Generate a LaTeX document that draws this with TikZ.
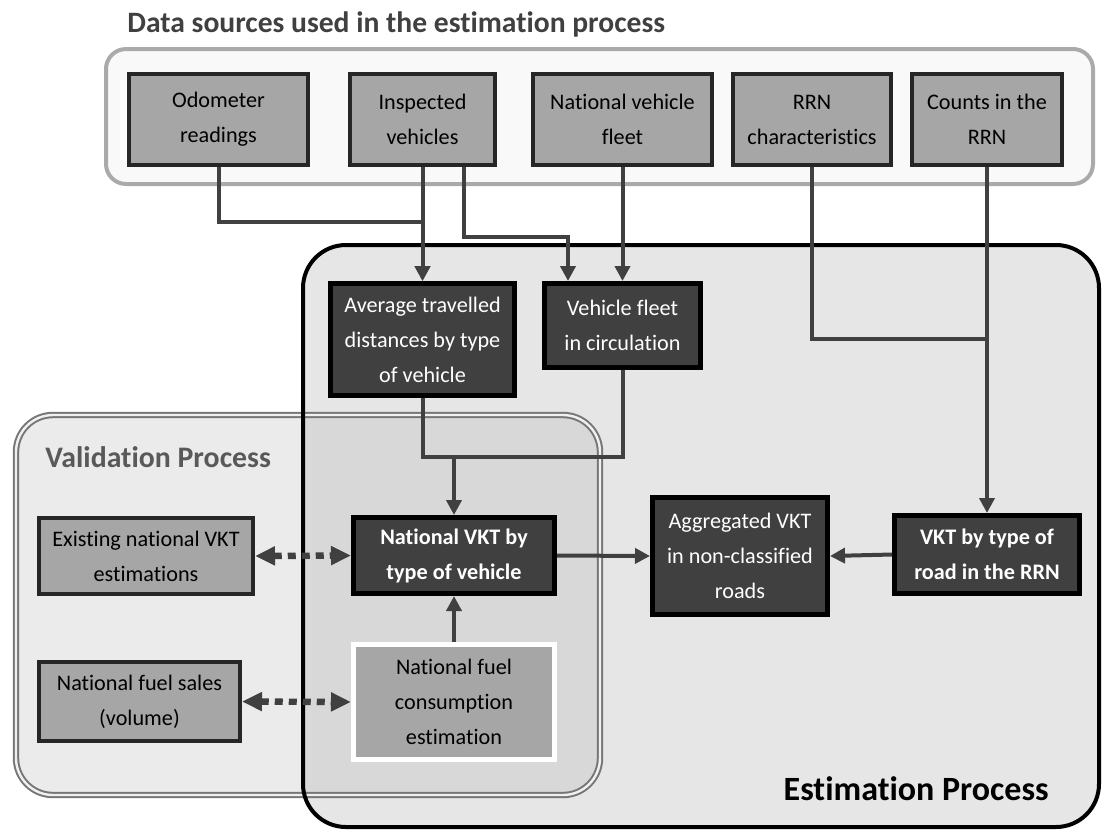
\documentclass[tikz,border=0pt]{standalone}
\usepackage{fontspec}
\setmainfont{Carlito}[Ligatures=NoCommon]
\usetikzlibrary{arrows.meta}
\definecolor{boxgray}{RGB}{166,166,166}
\definecolor{boxline}{RGB}{38,38,38}
\definecolor{darkbox}{RGB}{64,64,64}
\definecolor{linkgray}{RGB}{64,64,64}
\definecolor{titlegray}{RGB}{64,64,64}
\definecolor{panelfill}{RGB}{249,249,249}
\definecolor{panelline}{RGB}{170,170,170}
\definecolor{estfill}{RGB}{230,230,230}
\definecolor{valfill}{RGB}{183,183,183}
\definecolor{valline}{RGB}{118,118,118}
\definecolor{valtext}{RGB}{89,89,89}
\begin{document}
\begin{tikzpicture}[x=0.5pt, y=-0.5pt,
    txt/.style={font=\fontsize{11.1pt}{17.5pt}\selectfont, align=center, inner sep=0pt},
    strong/.style={font=\fontsize{11.1pt}{17.5pt}\selectfont\bfseries},
    source/.style={txt, draw=boxline, fill=boxgray, line width=2pt},
    result/.style={txt, draw=black, fill=darkbox, text=white, line width=2.5pt},
    link/.style={draw=linkgray, line width=2pt},
    arr/.style={link, -{Triangle[length=7.5pt, width=7.5pt]}},
    check/.style={draw=linkgray, line width=3.2pt, dash pattern=on 4pt off 3pt,
        {Triangle[length=10pt, width=9pt]}-{Triangle[length=10pt, width=9pt]}}]
    \useasboundingbox (0,0) rectangle (1103,832);

    \node[anchor=base west, inner sep=0pt, text=titlegray, font=\fontsize{14.8pt}{17pt}\selectfont\bfseries] (srctitle) at (127,32) {Data sources used in the estimation process};

    \draw[draw=panelline, fill=panelfill, line width=2pt, rounded corners=10pt] (106,49) rectangle (1093,184);
    \fill[estfill, rounded corners=21.5pt] (303,245) rectangle (1099,827);
    \draw[fill=valfill, fill opacity=0.28, draw=valline, line width=1pt, double=gray!12, double distance=1.2pt, rounded corners=18.5pt] (16,415) rectangle (600,795);
    \draw[black, line width=2pt, rounded corners=21.5pt] (303,245) rectangle (1099,827);

    \node[anchor=base west, inner sep=0pt, text=valtext, font=\fontsize{14.9pt}{17pt}\selectfont\bfseries] (valtitle) at (45,467) {Validation Process};
    \node[anchor=base east, inner sep=0pt, font=\fontsize{17pt}{20pt}\selectfont\bfseries] (esttitle) at (1049,800) {Estimation Process};

    \node[source, minimum width=89.5pt, minimum height=45.5pt] (odo) at (218.5,119.5) {Odometer\\readings};
    \node[source, minimum width=72.5pt, minimum height=45.5pt] (insp) at (422.5,119.5) {Inspected\\vehicles};
    \node[source, minimum width=89.5pt, minimum height=45.5pt] (natfleet) at (622.5,119.5) {National vehicle\\fleet};
    \node[source, minimum width=79pt, minimum height=45.5pt] (rrn) at (812,119.5) {RRN\\characteristics};
    \node[source, minimum width=75pt, minimum height=45.5pt] (counts) at (987,119.5) {Counts in the\\RRN};

    \node[result, minimum width=92pt, minimum height=56pt] (avgdist) at (422.5,339.5) {Average travelled\\distances by type\\of vehicle};
    \node[result, minimum width=78pt, minimum height=42pt] (circ) at (622.5,325.5) {Vehicle fleet\\in circulation};
    \node[result, strong, minimum width=100.5pt, minimum height=38pt] (natvkt) at (454,555.5) {National VKT by\\type of vehicle};
    \node[result, minimum width=87.5pt, minimum height=58.5pt] (aggr) at (740,556) {Aggregated VKT\\in non-classified\\roads};
    \node[result, strong, minimum width=92.5pt, minimum height=39pt] (roadvkt) at (987,554.5) {VKT by type of\\road in the RRN};

    \node[source, minimum width=107pt, minimum height=38pt] (existvkt) at (146,556) {Existing national VKT\\estimations};
    \node[source, minimum width=100.5pt, minimum height=39.5pt] (sales) at (139.5,701.5) {National fuel sales\\(volume)};
    \node[source, draw=white, line width=2.5pt, minimum width=100.5pt, minimum height=57.5pt] (fuelcons) at (454,702) {National fuel\\consumption\\estimation};

    \coordinate (rrnjoin) at (987,339);
    \coordinate (merge) at (454,457);

    \draw[arr] (odo.south) -- ++(0,55) -| (avgdist.north);
    \draw[arr] (insp.south) -- (avgdist.north);
    \draw[arr] ([xshift=20.75pt]insp.south) -- ++(0,70) -| ([xshift=-27.25pt]circ.north);
    \draw[arr] (natfleet.south) -- (circ.north);
    \draw[link] (rrn.south) |- (rrnjoin);
    \draw[arr] (counts.south) -- (roadvkt.north);
    \draw[link] (avgdist.south) |- (merge) -| (circ.south);
    \draw[arr] (merge) -- (natvkt.north);
    \draw[arr] (fuelcons.north) -- (natvkt.south);
    \draw[arr] (natvkt.east) -- (aggr.west);
    \draw[arr] (roadvkt.west) -- (aggr.east);
    \draw[check] (existvkt.east) -- (natvkt.west);
    \draw[check] (sales.east) -- (fuelcons.west);
\end{tikzpicture}
\end{document}
